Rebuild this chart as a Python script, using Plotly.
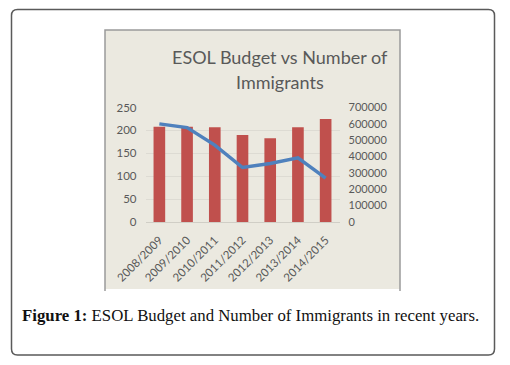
import plotly.graph_objects as go

years = ["2008/2009", "2009/2010", "2010/2011", "2011/2012", "2012/2013", "2013/2014", "2014/2015"]
budget = [208, 208, 207, 190, 183, 207, 225]
immigrants = [600000, 577000, 470000, 333000, 358000, 392000, 268000]
left_ticks = [0, 50, 100, 150, 200, 250]
right_ticks = [0, 100000, 200000, 300000, 400000, 500000, 600000, 700000]

OFF = 8  # page body margin
W, H = 510 - 2 * OFF, 365 - 2 * OFF
def px(x): return (x - OFF) / W
def py(y): return 1 - (y - OFF) / H

FONT = "Lato"
GRAY = "#595959"

fig = go.Figure()
fig.add_trace(go.Bar(x=years, y=budget, marker=dict(color="#C0504D", line=dict(width=0)),
                     yaxis="y", showlegend=False))
fig.add_trace(go.Scatter(x=years, y=immigrants, mode="lines", line=dict(color="#4F81BD", width=3.5),
                         yaxis="y2", showlegend=False))

# outer rounded border
x0, y0, x1, y1, r = px(11.5), py(9.5), px(494.5), py(355), 6
rx, ry = r / W, r / H
path = (f"M {x0+rx},{y0} L {x1-rx},{y0} Q {x1},{y0} {x1},{y0-ry} "
        f"L {x1},{y1+ry} Q {x1},{y1} {x1-rx},{y1} L {x0+rx},{y1} Q {x0},{y1} {x0},{y1+ry} "
        f"L {x0},{y0-ry} Q {x0},{y0} {x0+rx},{y0} Z")
shapes = [
    dict(type="path", xref="paper", yref="paper", path=path, line=dict(color="#5A5A5A", width=1.5),
         layer="below"),
    dict(type="rect", xref="paper", yref="paper", x0=px(105), x1=px(400), y0=py(289), y1=py(30),
         fillcolor="#EBE9E0", line=dict(width=0), layer="below"),
    dict(type="path", xref="paper", yref="paper",
         path=f"M {px(105)},{py(291)} L {px(105)},{py(30)} L {px(400)},{py(30)} L {px(400)},{py(291)}",
         line=dict(color="#9A9A9A", width=1.5), layer="below"),
]

annotations = [
    dict(text="ESOL Budget vs Number of", x=px(280), y=py(57), xref="paper", yref="paper",
         showarrow=False, xanchor="center", yanchor="middle", font=dict(family=FONT, size=18, color=GRAY)),
    dict(text="Immigrants", x=px(280), y=py(82), xref="paper", yref="paper",
         showarrow=False, xanchor="center", yanchor="middle", font=dict(family=FONT, size=18, color=GRAY)),
    dict(text="<b>Figure 1:</b> ESOL Budget and Number of Immigrants in recent years.",
         x=px(20), y=py(315), xref="paper", yref="paper", showarrow=False, xanchor="left", yanchor="middle",
         font=dict(family="Liberation Serif", size=16.8, color="#111111")),
]

fig.update_layout(
    width=W, height=H, margin=dict(l=0, r=0, t=0, b=0, autoexpand=False),
    paper_bgcolor="white", plot_bgcolor="rgba(0,0,0,0)",
    bargap=0.58,
    shapes=shapes, annotations=annotations,
    xaxis=dict(domain=[px(145.5), px(339.5)], tickangle=-45, showline=True, linecolor="#D0CEC6",
               linewidth=1, ticks="", showgrid=False, automargin=False, ticklabelstandoff=6,
               tickfont=dict(family=FONT, size=11.5, color=GRAY)),
    yaxis=dict(domain=[py(222), py(107.5)], range=[0, 250], tickvals=left_ticks, showgrid=True,
               gridcolor="#DDDBD3", gridwidth=1, zeroline=False, showline=False, ticks="", automargin=False,
               tickfont=dict(family=FONT, size=11.5, color=GRAY), ticklabelstandoff=8),
    yaxis2=dict(overlaying="y", side="right", range=[0, 700000], tickvals=right_ticks, showgrid=False,
                zeroline=False, showline=False, ticks="", tickformat="d", automargin=False,
                tickfont=dict(family=FONT, size=11, color=GRAY), ticklabelstandoff=8),
)

fig.write_html("out.html")
